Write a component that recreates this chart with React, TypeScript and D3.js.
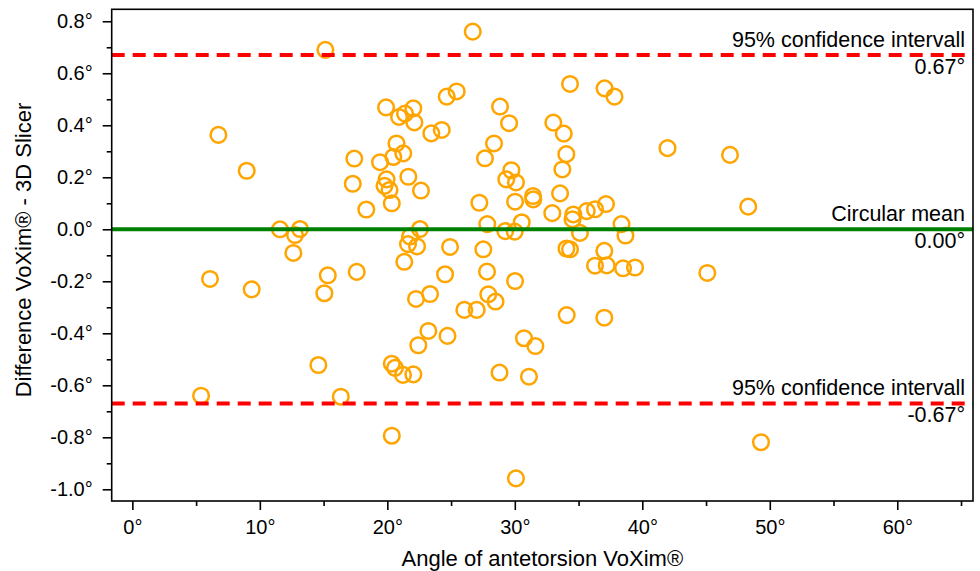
import * as d3 from "d3";
import { useEffect, useRef } from "react";

// angle of antetorsion measured with VoXim (degrees)
const angleVoxim = [
  15.14, 26.7, 6.75, 8.97, 11.58, 12.76, 13.15, 12.63, 6.09, 9.36,
  15.33, 15.06, 17.6, 14.59, 5.39, 16.35, 20.35, 19.9, 20.92, 21.39,
  22.04, 22.12, 24.66, 25.44, 23.45, 24.27, 28.84, 29.55, 20.72, 19.43,
  20.47, 21.25, 21.65, 19.94, 19.78, 20.17, 22.64, 20.35, 18.35, 17.41,
  17.29, 27.66, 28.37, 27.22, 27.84, 22.56, 21.78, 21.62, 22.33, 21.33,
  24.92, 27.53, 34.33, 37.04, 37.82, 33.02, 33.84, 34.04, 33.73, 29.73,
  29.33, 30.09, 31.43, 31.45, 33.55, 30.02, 32.94, 34.59, 34.53, 35.64,
  36.29, 37.15, 30.54, 29.25, 29.99, 35.11, 38.37, 38.68, 41.98, 46.88,
  48.31, 34.05, 34.33, 37.02, 27.82, 30.02, 24.53, 23.35, 22.25, 27.92,
  28.49, 26.04, 27.01, 34.07, 37.02, 23.22, 24.72, 22.43, 30.72, 31.61,
  28.8, 31.11, 20.35, 20.6, 21.23, 22.04, 30.09, 36.29, 37.21, 38.49,
  39.43, 45.1, 49.31,
];

// difference VoXim - 3D Slicer (degrees)
const difference = [
  0.69, 0.76, 0.363, 0.225, 0.0, -0.022, 0.001, -0.091, -0.191, -0.231,
  -0.177, -0.246, -0.164, -0.522, -0.64, -0.644, -0.794, 0.469, 0.432, 0.445,
  0.465, 0.411, 0.51, 0.53, 0.369, 0.382, 0.472, 0.408, 0.33, 0.258,
  0.278, 0.292, 0.202, 0.192, 0.167, 0.151, 0.149, 0.1, 0.076, 0.272,
  0.175, 0.273, 0.33, 0.102, 0.02, 0.001, -0.028, -0.057, -0.066, -0.125,
  -0.068, -0.077, 0.559, 0.542, 0.51, 0.41, 0.368, 0.289, 0.23, 0.227,
  0.192, 0.18, 0.128, 0.115, 0.138, 0.106, 0.062, 0.057, 0.038, 0.07,
  0.077, 0.097, 0.027, -0.007, -0.009, -0.014, 0.02, -0.024, 0.312, 0.286,
  0.087, -0.074, -0.077, -0.083, -0.163, -0.199, -0.173, -0.249, -0.268, -0.25,
  -0.278, -0.31, -0.31, -0.33, -0.34, -0.391, -0.41, -0.446, -0.419, -0.449,
  -0.551, -0.567, -0.517, -0.533, -0.56, -0.558, -0.958, -0.14, -0.139, -0.15,
  -0.147, -0.168, -0.819,
];

const meanDiff = 0.0;
const upperLimit = 0.67;
const lowerLimit = -0.67;

const xTicks = [0, 10, 20, 30, 40, 50, 60];
const xMinor = [5, 15, 25, 35, 45, 55, 65];
const yTicks = [-1.0, -0.8, -0.6, -0.4, -0.2, 0.0, 0.2, 0.4, 0.6, 0.8];
const yMinor = [-0.9, -0.7, -0.5, -0.3, -0.1, 0.1, 0.3, 0.5, 0.7];

const font = "'Liberation Sans', Arial, sans-serif";

export default function App() {
  const ref = useRef<SVGSVGElement>(null);

  useEffect(() => {
    const width = 980,
      height = 571;
    const left = 111.7,
      right = 973,
      top = 9.3,
      bottom = 501;

    const svg = d3.select(ref.current);
    svg.selectAll("*").remove();

    const x = d3.scaleLinear().domain([-1.62, 65.94]).range([left, right]);
    const y = d3.scaleLinear().domain([-1.045, 0.846]).range([bottom, top]);

    svg.append("rect").attr("width", width).attr("height", height).attr("fill", "#fff");

    // points
    svg
      .append("g")
      .selectAll("circle")
      .data(angleVoxim.map((a, i) => [a, difference[i]]))
      .join("circle")
      .attr("cx", (d) => x(d[0]))
      .attr("cy", (d) => y(d[1]))
      .attr("r", 7.8)
      .attr("fill", "none")
      .attr("stroke", "#FFA500")
      .attr("stroke-width", 2.5);

    // mean and limits of agreement
    svg
      .append("line")
      .attr("x1", left)
      .attr("x2", right)
      .attr("y1", y(meanDiff))
      .attr("y2", y(meanDiff))
      .attr("stroke", "#008000")
      .attr("stroke-width", 4);

    [upperLimit, lowerLimit].forEach((v) => {
      svg
        .append("line")
        .attr("x1", left)
        .attr("x2", right)
        .attr("y1", y(v))
        .attr("y2", y(v))
        .attr("stroke", "#FF0000")
        .attr("stroke-width", 4)
        .attr("stroke-dasharray", "13,8");
    });

    const notes = [
      { v: upperLimit, label: "95% confidence intervall", val: upperLimit.toFixed(2) + "°" },
      { v: meanDiff, label: "Circular mean", val: meanDiff.toFixed(2) + "°" },
      { v: lowerLimit, label: "95% confidence intervall", val: lowerLimit.toFixed(2) + "°" },
    ];
    notes.forEach((n) => {
      svg
        .append("text")
        .attr("x", 965)
        .attr("y", y(n.v) - 8)
        .attr("text-anchor", "end")
        .attr("font-family", font)
        .attr("font-size", 21.5)
        .text(n.label);
      svg
        .append("text")
        .attr("x", 965)
        .attr("y", y(n.v) + 19)
        .attr("text-anchor", "end")
        .attr("font-family", font)
        .attr("font-size", 21.5)
        .text(n.val);
    });

    // axes
    const xAxis = svg.append("g").attr("transform", `translate(0,${bottom})`);
    xAxis.call(
      d3
        .axisBottom(x)
        .tickValues(xTicks)
        .tickSize(9)
        .tickPadding(10)
        .tickFormat((d) => `${d}°`)
    );
    xAxis
      .append("g")
      .call(d3.axisBottom(x).tickValues(xMinor).tickSize(5).tickFormat(() => ""));

    const yAxis = svg.append("g").attr("transform", `translate(${left},0)`);
    yAxis.call(
      d3
        .axisLeft(y)
        .tickValues(yTicks)
        .tickSize(9)
        .tickPadding(10)
        .tickFormat((d) => `${(+d).toFixed(1)}°`)
    );
    yAxis
      .append("g")
      .call(d3.axisLeft(y).tickValues(yMinor).tickSize(5).tickFormat(() => ""));

    svg.selectAll(".domain").remove();
    svg
      .selectAll(".tick line")
      .attr("stroke", "#000")
      .attr("stroke-width", 1.6);
    svg
      .selectAll(".tick text")
      .attr("font-family", font)
      .attr("font-size", 20)
      .attr("fill", "#000");

    svg
      .append("rect")
      .attr("x", left)
      .attr("y", top)
      .attr("width", right - left)
      .attr("height", bottom - top)
      .attr("fill", "none")
      .attr("stroke", "#000")
      .attr("stroke-width", 1.6);

    svg
      .append("text")
      .attr("x", (left + right) / 2)
      .attr("y", 566)
      .attr("text-anchor", "middle")
      .attr("font-family", font)
      .attr("font-size", 22)
      .text("Angle of antetorsion VoXim®");

    svg
      .append("text")
      .attr("transform", `translate(31,250) rotate(-90)`)
      .attr("text-anchor", "middle")
      .attr("font-family", font)
      .attr("font-size", 22)
      .text("Difference VoXim® - 3D Slicer");
  }, []);

  return (
    <svg
      ref={ref}
      width={980}
      height={571}
      style={{ position: "absolute", left: 0, top: 0 }}
    />
  );
}
